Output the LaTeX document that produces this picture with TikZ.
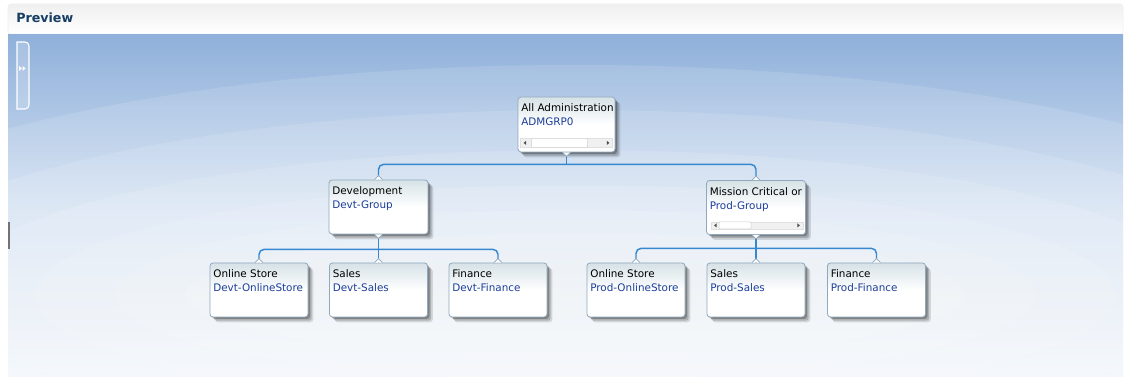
\documentclass[tikz,border=0pt]{standalone}
\usepackage{fontspec}
\setmainfont{DejaVu Sans}
\usetikzlibrary{positioning, calc, shadows}

\definecolor{paneltop}{HTML}{8FB0DA}
\definecolor{panelmid}{HTML}{D3E1F2}
\definecolor{panelbot}{HTML}{F2F6FC}
\definecolor{cardline}{HTML}{8FA8BD}
\definecolor{cardtop}{HTML}{D6E2E6}
\definecolor{linkblue}{HTML}{3588D0}
\definecolor{idblue}{HTML}{1C3D9A}
\definecolor{headtext}{HTML}{163D63}

\begin{document}
\begin{tikzpicture}[
  x=0.75pt, y=-0.75pt, % one unit = one pixel, y runs downwards
  every node/.style={font=\fontsize{7.8}{10.5}\selectfont},
  card/.style={
    draw=cardline, line width=.6pt, rounded corners=2.25pt,
    top color=cardtop, bottom color=white, middle color=white,
    drop shadow={shadow xshift=4pt, shadow yshift=-4pt, opacity=.12, fill=black},
    drop shadow={shadow xshift=2.8pt, shadow yshift=-2.8pt, opacity=.18, fill=black},
    drop shadow={shadow xshift=1.5pt, shadow yshift=-1.5pt, opacity=.25, fill=black},
  },
  rootcard/.style={card, minimum width=72.75pt, minimum height=41.25pt},
  groupcard/.style={card, minimum width=74.25pt, minimum height=40.5pt},
  leafcard/.style={card, minimum width=73.5pt, minimum height=40.5pt},
  cardtext/.style={anchor=north west, align=left, inner sep=0pt,
    xshift=2.6pt, yshift=-5.4pt},
  link/.style={draw=linkblue, line width=1.1pt, rounded corners=3.75pt},
  notch/.style={fill=white, draw=cardline, line width=.5pt},
  track/.style={fill=black!6, draw=black!12, line width=.4pt},
  thumb/.style={fill=white, draw=black!18, line width=.4pt, rounded corners=.8pt},
]
  \useasboundingbox (0,0) rectangle (1125,377);
  \fill[white] (0,0) rectangle (1125,377);

  % header bar
  \draw[draw=black!6, top color=black!6, bottom color=white, rounded corners=2pt]
    (8,4) rectangle (1123,34);
  \node[anchor=west, inner sep=0pt, text=headtext,
    font=\bfseries\fontsize{9.5}{11}\selectfont] (preview) at (16,18) {Preview};

  % blue panel with rings
  \shade[top color=paneltop, bottom color=panelbot, middle color=panelmid]
    (8,35) rectangle (1123,377);
  \begin{scope}
    \clip (8,35) rectangle (1123,377);
    \foreach \rx/\ry in {820/230, 720/185, 630/145, 540/110, 460/85, 390/62}
      \fill[white, opacity=.12] (575,295) ellipse [x radius=\rx, y radius=\ry];
  \end{scope}

  %% side tab
  \draw[white, line width=.8pt, fill=white, fill opacity=.2]
    (17,42) [rounded corners=3pt] -- (29,42) -- (29,109) [sharp corners] -- (17,109) -- cycle;
  \fill[white] (19,66) -- (22,68.5) -- (19,71) -- cycle;
  \fill[white] (22.5,66) -- (25.5,68.5) -- (22.5,71) -- cycle;
  \fill[black!55] (8,222) rectangle (9.5,249);

  % root
  \node[rootcard] (root) at (566.5,124.5) {};
  \node[cardtext] (roottext) at (root.north west)
    {All Administration\\\textcolor{idblue}{ADMGRP0}};
  %% scroll bar
  \draw[track] ($(root.south west)+(3,-14)$) rectangle ($(root.south east)+(-3,-5)$);
  \draw[thumb] ($(root.south west)+(14,-14)$) rectangle ($(root.south west)+(70,-5)$);
  \fill[black!70] ($(root.south west)+(6,-9.5)$) -- ++(2.5,-2) -- ++(0,4) -- cycle;
  \fill[black!70] ($(root.south east)+(-6,-9.5)$) -- ++(-2.5,-2) -- ++(0,4) -- cycle;

  % groups
  \node[groupcard] (devt) at (378.5,207) {};
  \node[cardtext] (devttext) at (devt.north west)
    {Development\\\textcolor{idblue}{Devt-Group}};

  \node[groupcard] (prod) at (756,207.5) {};
  \begin{scope}
    \clip (prod.south west) rectangle (prod.north east);
    \node[cardtext] (prodtext) at (prod.north west)
      {Mission Critical or\\\textcolor{idblue}{Prod-Group}};
  \end{scope}
  %% scroll bar
  \draw[track] ($(prod.south west)+(5,-13)$) rectangle ($(prod.south east)+(-3,-6)$);
  \draw[thumb] ($(prod.south west)+(13,-13)$) rectangle ($(prod.south west)+(45,-6)$);
  \fill[black!70] ($(prod.south west)+(8,-9.5)$) -- ++(2.5,-2) -- ++(0,4) -- cycle;
  \fill[black!70] ($(prod.south east)+(-6,-9.5)$) -- ++(-2.5,-2) -- ++(0,4) -- cycle;

  % leaves
  \node[leafcard] (devtstore) at (259,290) {};
  \node[cardtext] at (devtstore.north west)
    {Online Store\\\textcolor{idblue}{Devt-OnlineStore}};
  \node[leafcard] (devtsales) at (378.5,290) {};
  \node[cardtext] at (devtsales.north west)
    {Sales\\\textcolor{idblue}{Devt-Sales}};
  \node[leafcard] (devtfinance) at (498,290) {};
  \node[cardtext] at (devtfinance.north west)
    {Finance\\\textcolor{idblue}{Devt-Finance}};

  \node[leafcard] (prodstore) at (636,290) {};
  \node[cardtext] at (prodstore.north west)
    {Online Store\\\textcolor{idblue}{Prod-OnlineStore}};
  \node[leafcard] (prodsales) at (756,290) {};
  \node[cardtext] at (prodsales.north west)
    {Sales\\\textcolor{idblue}{Prod-Sales}};
  \node[leafcard] (prodfinance) at (876.5,290) {};
  \node[cardtext] at (prodfinance.north west)
    {Finance\\\textcolor{idblue}{Prod-Finance}};

  % connectors
  \coordinate (rootjoin) at ($(root.south)+(0,12)$);
  \draw[link] (root.south) -- (rootjoin);
  \draw[link] (devt.north) |- (rootjoin) -| (prod.north);

  \coordinate (devtjoin) at ($(devt.south)+(0,15)$);
  \draw[link] (devt.south) -- (devtjoin) -- (devtsales.north);
  \draw[link] (devtstore.north) |- (devtjoin) -| (devtfinance.north);

  \coordinate (prodjoin) at ($(prod.south)+(0,13.5)$);
  \draw[link] (prod.south) -- (prodjoin) -- (prodsales.north);
  \draw[link] (prodstore.north) |- (prodjoin) -| (prodfinance.north);

  %% notches
  \foreach \n in {devt, prod, devtstore, devtsales, devtfinance, prodstore, prodsales, prodfinance}
    \filldraw[notch] ($(\n.north)+(-4,0)$) -- ($(\n.north)+(0,-4)$) -- ($(\n.north)+(4,0)$);
  \foreach \n in {root, devt, prod}
    \filldraw[notch] ($(\n.south)+(-4,0)$) -- ($(\n.south)+(0,4)$) -- ($(\n.south)+(4,0)$);

\end{tikzpicture}
\end{document}
